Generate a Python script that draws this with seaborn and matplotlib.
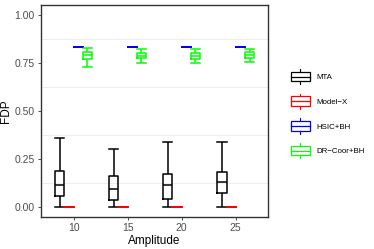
import seaborn as sns
import pandas as pd
import matplotlib.pyplot as plt
import numpy as np
from matplotlib.lines import Line2D
from matplotlib.patches import Rectangle
from matplotlib.legend_handler import HandlerBase

# five-number summaries (min, q1, median, q3, max)
amplitudes = [10, 15, 20, 25]
methods = ["MTA", "Model\u2212X", "HSIC+BH", "DR\u2212Coor+BH"]
colors = ["black", "#FF0000", "#0000FF", "#00FF00"]

mta = [[0.0, 0.060, 0.115, 0.189, 0.358],
       [0.0, 0.038, 0.096, 0.161, 0.302],
       [0.0, 0.043, 0.117, 0.175, 0.338],
       [0.0, 0.075, 0.129, 0.182, 0.337]]
model_x = [[0.0, 0.0, 0.0, 0.0, 0.0]] * 4
hsic = [[0.830, 0.830, 0.830, 0.830, 0.830]] * 4
dr_coor = [[0.727, 0.771, 0.790, 0.804, 0.825],
           [0.751, 0.773, 0.784, 0.799, 0.823],
           [0.747, 0.771, 0.784, 0.799, 0.823],
           [0.755, 0.776, 0.792, 0.804, 0.823]]

rows = []
for m, vals in zip(methods, [mta, model_x, hsic, dr_coor]):
    for a, v in zip(amplitudes, vals):
        for x in v:
            rows.append({"Amplitude": a, "FDP": x, "method": m})
df = pd.DataFrame(rows)

plt.rcParams['font.family'] = ['Liberation Sans', 'DejaVu Sans']
fig = plt.figure(figsize=(3.74, 2.49), dpi=100)
ax = fig.add_axes([0.11, 0.129, 0.607, 0.851])

sns.boxplot(data=df, x="Amplitude", y="FDP", hue="method", hue_order=methods,
            palette=colors, width=0.68, gap=0, whis=(0, 100), fill=False,
            linewidth=1.1, legend=False, ax=ax)

# make whisker caps as wide as the boxes (ggplot errorbar style)
for cont in ax.containers:
    if not hasattr(cont, "caps"):
        continue
    for i, box in enumerate(cont.boxes):
        xs = box.get_path().vertices[:, 0]
        for cap in cont.caps[2 * i:2 * i + 2]:
            cap.set_xdata([xs.min(), xs.max()])

ax.set_ylim(-0.05, 1.05)
ax.set_xlim(-0.6, 3.6)
ax.set_yticks([0, 0.25, 0.5, 0.75, 1.0])
ax.set_yticklabels(["0.00", "0.25", "0.50", "0.75", "1.00"])
ax.set_yticks([0.125, 0.375, 0.625, 0.875], minor=True)
ax.yaxis.grid(True, which="minor", color="#EBEBEB", linewidth=0.6)
ax.set_axisbelow(True)
ax.tick_params(axis="y", which="minor", length=0)
ax.tick_params(which="major", length=2.5, width=0.6, color="#333333",
               labelsize=7.5, labelcolor="#4D4D4D", pad=2)
for s in ax.spines.values():
    s.set_color("#333333")
    s.set_linewidth(1.0)
ax.set_xlabel("Amplitude", fontsize=8.5, labelpad=1)
ax.set_ylabel("FDP", fontsize=8.5)
ax.yaxis.set_label_coords(-0.128, 0.5)


class BoxKey(HandlerBase):
    def create_artists(self, legend, orig, xd, yd, w, h, fontsize, trans):
        c = orig.get_color()
        x0, y0 = -xd, -yd
        cx = x0 + w / 2
        art = [Rectangle((x0, y0), w, h, facecolor="white", edgecolor=c, lw=0.9),
               Line2D([x0, x0 + w], [y0 + h / 2, y0 + h / 2], color=c, lw=0.9),
               Line2D([cx, cx], [y0 + h, y0 + 1.3 * h], color=c, lw=0.8),
               Line2D([cx, cx], [y0 - 0.3 * h, y0], color=c, lw=0.8)]
        for a in art:
            a.set_transform(trans)
        return art


handles = [Line2D([], [], color=c) for c in colors]
ax.legend(handles, methods, handler_map={Line2D: BoxKey()},
          loc="upper left", bbox_to_anchor=(1.085, 0.70), frameon=False,
          fontsize=5.7, handlelength=2.4, handleheight=1.5, labelspacing=1.9,
          handletextpad=0.9, borderaxespad=0)

fig.savefig("out.png", dpi=100)
